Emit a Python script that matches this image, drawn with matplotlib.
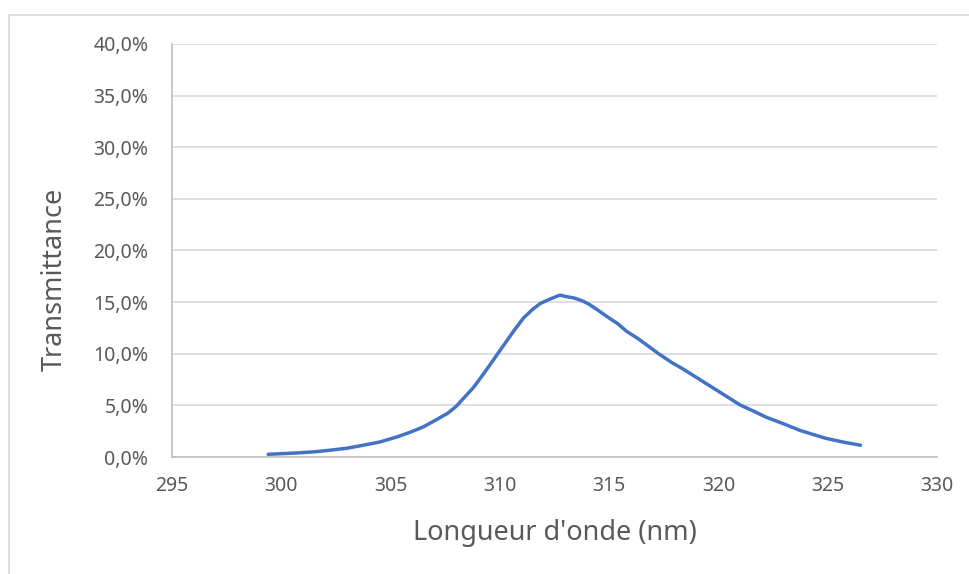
import matplotlib.pyplot as plt
from matplotlib.patches import Rectangle
from matplotlib.ticker import FuncFormatter

# wavelength (nm) and transmittance (%)
wavelength = [299.4, 300.0, 300.7, 301.5, 302.2, 303.0, 303.75, 304.5, 305.3, 305.9,
              306.5, 307.0, 307.6, 308.0, 308.3, 308.8, 309.2, 309.55, 309.9, 310.3,
              310.7, 311.1, 311.5, 311.85, 312.3, 312.75, 313.0, 313.4, 313.8, 314.1,
              314.5, 314.9, 315.4, 315.8, 316.3, 316.7, 317.3, 317.9, 318.4, 318.7,
              319.3, 319.9, 320.5, 321.0, 321.6, 322.2, 323.0, 323.7, 324.3, 324.95,
              325.7, 326.5]
transmittance = [0.26, 0.32, 0.39, 0.50, 0.65, 0.85, 1.14, 1.45, 1.95, 2.4,
                 2.92, 3.5, 4.22, 4.9, 5.6, 6.75, 7.9, 8.93, 10.0, 11.2,
                 12.4, 13.5, 14.3, 14.87, 15.3, 15.68, 15.55, 15.4, 15.1, 14.77,
                 14.2, 13.6, 12.9, 12.17, 11.5, 10.88, 9.95, 9.1, 8.5, 8.1,
                 7.3, 6.5, 5.7, 5.03, 4.45, 3.84, 3.2, 2.6, 2.2, 1.79,
                 1.45, 1.14]

plt.rcParams['font.family'] = ['Noto Sans', 'DejaVu Sans']

fig = plt.figure(figsize=(9.7, 5.74), dpi=100)
fig.patches.append(Rectangle((9 / 970, -0.1), 1.2, (574 - 15) / 574 + 0.1,
                             transform=fig.transFigure, fill=False,
                             edgecolor='#d9d9d9', linewidth=1.2))
ax = fig.add_axes([172 / 970, 117 / 574, 765 / 970, 413 / 574])

ax.plot(wavelength, transmittance, color='#4472c4', linewidth=2.5, solid_capstyle='round')

ax.set_xlim(295, 330)
ax.set_ylim(0, 40)
ax.set_xticks(range(295, 331, 5))
ax.set_yticks(range(0, 41, 5))
ax.yaxis.set_major_formatter(FuncFormatter(lambda v, p: f"{v:.1f}%".replace('.', ',')))

ax.grid(axis='y', color='#d9d9d9', linewidth=1.2)
ax.set_axisbelow(True)
for s in ['top', 'right']:
    ax.spines[s].set_visible(False)
for s in ['left', 'bottom']:
    ax.spines[s].set_color('#bfbfbf')
    ax.spines[s].set_linewidth(1.2)
ax.tick_params(length=0, labelsize=14, labelcolor='#595959')
ax.tick_params(axis='y', pad=17)
ax.tick_params(axis='x', pad=14)

ax.set_xlabel("Longueur d'onde (nm)", fontsize=19.5, color='#595959', labelpad=16)
ax.set_ylabel("Transmittance", fontsize=19.5, color='#595959')
ax.yaxis.set_label_coords(-0.135, 0.43)

fig.savefig("out.png", dpi=100)
